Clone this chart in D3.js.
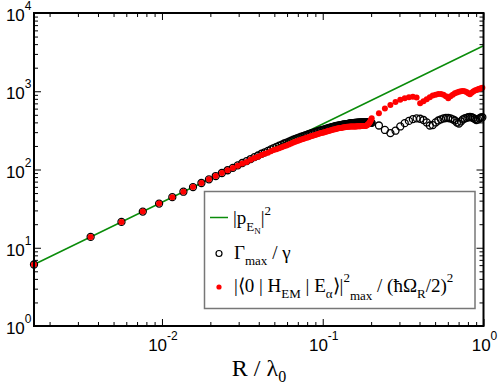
<!DOCTYPE html>
<html lang="en">
<head>
<meta charset="utf-8">
<title>Gamma max vs R / lambda0</title>
<script src="https://d3js.org/d3.v7.min.js"></script>
<style>
  body { margin: 0; background: #fff; }
  svg { display: block; }
  .ticklab { font-family: "Liberation Sans", Arial, Helvetica, sans-serif; fill: #000; }
  .serif { font-family: "Liberation Serif", "Times New Roman", serif; fill: #000; }
</style>
</head>
<body>
<svg width="498" height="387"></svg>
<script>
// R / lambda0 : step 0.002 up to 0.2, then step 0.02
var rValues = [
  0.0016, 0.0036, 0.0056, 0.0076, 0.0096, 0.0116, 0.0136, 0.0156, 0.0176, 0.0196,
  0.0216, 0.0236, 0.0256, 0.0276, 0.0296, 0.0316, 0.0336, 0.0356, 0.0376, 0.0396,
  0.0416, 0.0436, 0.0456, 0.0476, 0.0496, 0.0516, 0.0536, 0.0556, 0.0576, 0.0596,
  0.0616, 0.0636, 0.0656, 0.0676, 0.0696, 0.0716, 0.0736, 0.0756, 0.0776, 0.0796,
  0.0816, 0.0836, 0.0856, 0.0876, 0.0896, 0.0916, 0.0936, 0.0956, 0.0976, 0.0996,
  0.1016, 0.1036, 0.1056, 0.1076, 0.1096, 0.1116, 0.1136, 0.1156, 0.1176, 0.1196,
  0.1216, 0.1236, 0.1256, 0.1276, 0.1296, 0.1316, 0.1336, 0.1356, 0.1376, 0.1396,
  0.1416, 0.1436, 0.1456, 0.1476, 0.1496, 0.1516, 0.1536, 0.1556, 0.1576, 0.1596,
  0.1616, 0.1636, 0.1656, 0.1676, 0.1696, 0.1716, 0.1736, 0.1756, 0.1776, 0.1796,
  0.1816, 0.1836, 0.1856, 0.1876, 0.1896, 0.1916, 0.1936, 0.1956, 0.1976, 0.1996,
  0.2016,
  0.2236, 0.2436, 0.2636, 0.2836, 0.3036, 0.3236, 0.3436, 0.3636, 0.3836, 0.4036,
  0.4236, 0.4436, 0.4636, 0.4836, 0.5036, 0.5236, 0.5436, 0.5636, 0.5836, 0.6036,
  0.6236, 0.6436, 0.6636, 0.6836, 0.7036, 0.7236, 0.7436, 0.7636, 0.7836, 0.8036,
  0.8236, 0.8436, 0.8636, 0.8836, 0.9036, 0.9236, 0.9436, 0.9636, 0.9836
];

// Gamma_max / gamma  (open black circles)
var gammaMax = [
  6.11, 13.75, 21.4, 29.0, 36.7, 44.3, 52.0, 59.6, 67.2, 74.9,
  82.5, 90.2, 97.8, 105, 113, 121, 128, 136, 144, 151,
  159, 166, 173, 181, 188, 195, 201, 208, 215, 221,
  227, 234, 240, 246, 252, 257, 262, 267, 272, 277,
  282, 287, 291, 296, 300, 304, 309, 313, 317, 320,
  324, 328, 332, 336, 340, 343, 347, 350, 354, 357,
  360, 362, 365, 367, 369, 371, 374, 376, 377, 379,
  381, 383, 385, 387, 389, 390, 391, 392, 393, 394,
  395, 396, 396, 397, 398, 399, 399, 399, 400, 400,
  400, 400, 400, 399, 399, 398, 398, 397, 396, 395,
  394,
  365, 320, 292, 313, 355, 391, 418, 440, 451, 445,
  429, 399, 365, 370, 399, 423, 438, 449, 455, 455,
  449, 438, 423, 399, 387, 411, 436, 449, 458, 465,
  469, 465, 455, 442, 429, 436, 451, 462, 465
];

// |<0|H_EM|E_alpha>|^2_max / (hbar Omega_R / 2)^2  (red dots)
var hemMax = [
  6.11, 13.75, 21.4, 29.0, 36.7, 44.3, 52.0, 59.6, 67.2, 74.9,
  82.5, 90.2, 97.8, 104.5, 112, 119, 125, 133, 140, 146,
  153, 159, 164, 171, 177, 182, 187, 192, 198, 203,
  209, 215, 221, 226, 232, 236, 241, 246, 250, 255,
  259, 264, 268, 272, 276, 280, 284, 288, 292, 294,
  298, 302, 305, 309, 313, 316, 319, 322, 326, 328,
  331, 333, 336, 338, 339, 341, 344, 346, 347, 349,
  351, 352, 353, 354, 355, 355, 355, 355, 355, 355,
  355, 356, 356, 357, 358, 358, 359, 359, 360, 360,
  360, 361, 363, 366, 371, 378, 388, 400, 414, 432,
  452,
  525, 600, 668, 730, 780, 815, 840, 850, 830, 705,
  745, 790, 840, 880, 905, 920, 925, 905, 865, 815,
  865, 905, 940, 965, 985, 1000, 1010, 1000, 975, 945,
  915, 955, 990, 1020, 1040, 1060, 1080, 1095, 1110
];

// |p_EN|^2 reference line
var pLineR = [0.0016, 0.01, 0.1, 1];
var pLineVal = [6.11, 38.2, 382, 3820];

var yExponents = ["0", "1", "2", "3", "4"];
var xExponents = ["-2", "-1", "0"];

var svg = d3.select("svg");
var plotL = 34, plotR = 483.5, plotT = 13, plotB = 326;

var x = d3.scaleLog().domain([0.0016, 1]).range([plotL, plotR]);
var y = d3.scaleLog().domain([1, 1e4]).range([plotB, plotT]);

function isMajor(v) {
  var l = Math.log10(v);
  return Math.abs(l - Math.round(l)) < 1e-9;
}

var xTicks = x.ticks(), yTicks = y.ticks();
var xMajor = xTicks.filter(isMajor), xMinor = xTicks.filter(function(v) { return !isMajor(v); });
var yMajor = yTicks.filter(isMajor), yMinor = yTicks.filter(function(v) { return !isMajor(v); });

function addTicks(axisFn, scale, vals, size, transform) {
  svg.append("g")
      .attr("transform", transform)
      .call(axisFn(scale).tickValues(vals).tickSize(size).tickFormat(""))
      .call(function(g) {
        g.select(".domain").remove();
        g.selectAll(".tick line").attr("stroke", "#000").attr("stroke-width", 1);
      });
}

addTicks(d3.axisBottom, x, xMajor, -7, "translate(0," + plotB + ")");
addTicks(d3.axisBottom, x, xMinor, -4, "translate(0," + plotB + ")");
addTicks(d3.axisTop, x, xMajor, -7, "translate(0," + plotT + ")");
addTicks(d3.axisTop, x, xMinor, -4, "translate(0," + plotT + ")");
addTicks(d3.axisLeft, y, yMajor, -7, "translate(" + plotL + ",0)");
addTicks(d3.axisLeft, y, yMinor, -4, "translate(" + plotL + ",0)");
addTicks(d3.axisRight, y, yMajor, -7, "translate(" + plotR + ",0)");
addTicks(d3.axisRight, y, yMinor, -4, "translate(" + plotR + ",0)");

// green |p|^2 line
var line = d3.line()
    .x(function(d, i) { return x(pLineR[i]); })
    .y(function(d) { return y(d); });
svg.append("path")
    .datum(pLineVal)
    .attr("d", line)
    .attr("fill", "none")
    .attr("stroke", "#0a8c0a")
    .attr("stroke-width", 1.5);

// Gamma_max circles
svg.append("g").selectAll("circle")
    .data(gammaMax)
    .enter().append("circle")
    .attr("cx", function(d, i) { return x(rValues[i]); })
    .attr("cy", function(d) { return y(d); })
    .attr("r", 3.5)
    .attr("fill", "none")
    .attr("stroke", "#000")
    .attr("stroke-width", 1.3);

// red dots
svg.append("g").selectAll("circle")
    .data(hemMax)
    .enter().append("circle")
    .attr("cx", function(d, i) { return x(rValues[i]); })
    .attr("cy", function(d) { return y(d); })
    .attr("r", 3)
    .attr("fill", "#ff0000");

// frame
svg.append("rect")
    .attr("x", plotL).attr("y", plotT)
    .attr("width", plotR - plotL).attr("height", plotB - plotT)
    .attr("fill", "none")
    .attr("stroke", "#000")
    .attr("stroke-width", 2);

// tick labels
var ylab = svg.append("g").selectAll("text")
    .data(yMajor)
    .enter().append("text")
    .attr("class", "ticklab")
    .attr("text-anchor", "end")
    .attr("x", 31.5)
    .attr("y", function(d) { return y(d) + 8; })
    .style("font-size", "17px");
ylab.append("tspan").text("10");
ylab.append("tspan")
    .attr("dy", -11)
    .style("font-size", "12px")
    .text(function(d, i) { return yExponents[i]; });

var xlab = svg.append("g").selectAll("text")
    .data(xMajor)
    .enter().append("text")
    .attr("class", "ticklab")
    .attr("text-anchor", "middle")
    .attr("x", function(d) { return x(d) + 1; })
    .attr("y", 351)
    .style("font-size", "17px");
xlab.append("tspan").text("10");
xlab.append("tspan")
    .attr("dy", -11)
    .style("font-size", "12px")
    .text(function(d, i) { return xExponents[i]; });

// axis title
var xt = svg.append("text")
    .attr("class", "serif")
    .attr("text-anchor", "middle")
    .attr("x", 259)
    .attr("y", 376)
    .style("font-size", "24px");
xt.append("tspan").text("R / \u03bb");
xt.append("tspan").attr("dy", 6).style("font-size", "16px").text("0");

// legend
var lg = svg.append("g");
lg.append("rect")
    .attr("x", 204.5).attr("y", 191.5)
    .attr("width", 270.5).attr("height", 117)
    .attr("fill", "#fff")
    .attr("stroke", "#777")
    .attr("stroke-width", 1.5);
lg.append("line")
    .attr("x1", 210).attr("x2", 228)
    .attr("y1", 217.5).attr("y2", 217.5)
    .attr("stroke", "#0a8c0a").attr("stroke-width", 1.5);
lg.append("circle")
    .attr("cx", 219).attr("cy", 253.5).attr("r", 3)
    .attr("fill", "none").attr("stroke", "#000").attr("stroke-width", 1.2);
lg.append("circle")
    .attr("cx", 219).attr("cy", 287).attr("r", 2.6)
    .attr("fill", "#ff0000");

function richText(px, py, parts) {
  var t = lg.append("text").attr("class", "serif").attr("x", px).attr("y", py)
      .style("font-size", "19px");
  var cur = 0;
  parts.forEach(function(p) {
    var off = p[1] || 0;
    t.append("tspan")
        .attr("dy", off - cur)
        .style("font-size", (p[2] || 19) + "px")
        .text(p[0]);
    cur = off;
  });
}

richText(233, 224, [["|p"], ["E", 7, 13], ["N", 10, 9], ["|", 0], ["2", -9, 13]]);
richText(234, 259, [["\u0393"], ["max", 6, 13], [" / \u03b3", 0]]);
richText(234, 292, [
  ["|\u27e80 | H"], ["EM", 6, 13], [" | E", 0], ["\u03b1", 6, 13], ["\u27e9|", 0],
  ["2", -10, 13], ["max", 8, 13], [" / (\u0127\u03a9", 0], ["R", 6, 13],
  ["/2)", 0], ["2", -10, 13]
]);
</script>
</body>
</html>
